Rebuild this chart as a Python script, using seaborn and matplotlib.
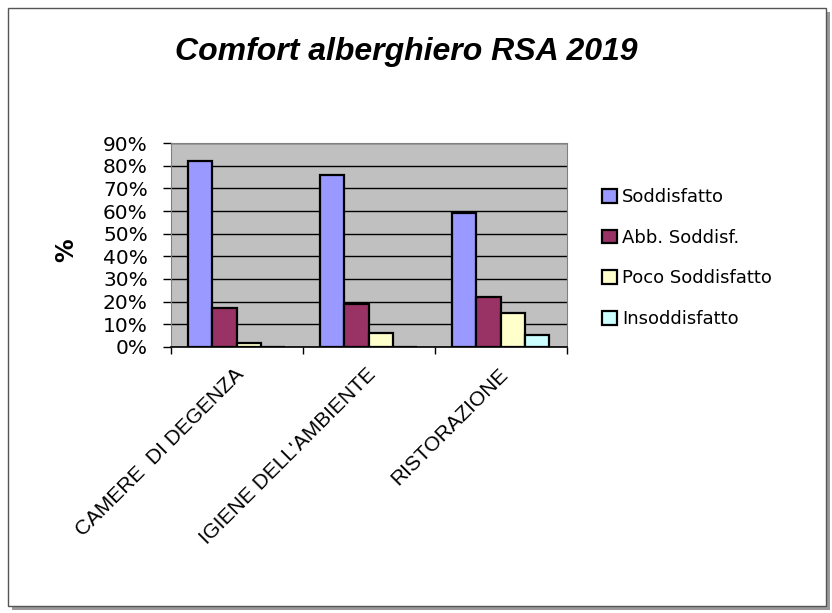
import matplotlib
matplotlib.use("Agg")
import matplotlib.pyplot as plt
import matplotlib.patches as mpatches
import seaborn as sns
import pandas as pd

# dati (percentuali)
categorie = ["CAMERE  DI DEGENZA", "IGIENE DELL'AMBIENTE", "RISTORAZIONE"]
giudizi = ["Soddisfatto", "Abb. Soddisf.", "Poco Soddisfatto", "Insoddisfatto"]
soddisfatto = [82, 76, 59]
abb_soddisf = [17, 19, 22]
poco_soddisfatto = [1.5, 6, 15]
insoddisfatto = [0, 0, 5]
colori = ["#9999FF", "#993366", "#FFFFCC", "#CCFFFF"]

serie = [soddisfatto, abb_soddisf, poco_soddisfatto, insoddisfatto]
righe = []
for g, vals in zip(giudizi, serie):
    for c, v in zip(categorie, vals):
        righe.append({"categoria": c, "giudizio": g, "valore": v})
df = pd.DataFrame(righe)

sns.set_style("white")
plt.rcParams["font.family"] = ["DejaVu Sans"]
plt.rcParams["text.color"] = "black"
plt.rcParams["axes.labelcolor"] = "black"
plt.rcParams["xtick.color"] = "black"
plt.rcParams["ytick.color"] = "black"

fig = plt.figure(figsize=(8.32, 6.13), dpi=100)

# cornice con ombra
fig.patches.append(mpatches.Rectangle((12 / 832, 1 - 610 / 613), 818 / 832, 598 / 613,
                                      transform=fig.transFigure, facecolor="#9a9a9a",
                                      edgecolor="none", zorder=0))
fig.patches.append(mpatches.Rectangle((8 / 832, 1 - 606 / 613), 818 / 832, 598 / 613,
                                      transform=fig.transFigure, facecolor="white",
                                      edgecolor="#555555", linewidth=1, zorder=1))

ax = fig.add_axes([170.7 / 832, 1 - 346.7 / 613, 396 / 832, 203.4 / 613])
ax.set_facecolor("#C0C0C0")
ax.set_zorder(2)

sns.barplot(data=df, x="categoria", y="valore", hue="giudizio", order=categorie,
            hue_order=giudizi, palette=colori, width=0.735, edgecolor="black",
            linewidth=1.6, saturation=1, ax=ax, zorder=3)

ax.set_ylim(0, 90)
ax.set_xlim(-0.5, 2.5)
ax.set_yticks(range(0, 91, 10))
ax.set_yticklabels([f"{v}%" for v in range(0, 91, 10)], fontsize=14.5)
ax.yaxis.grid(True, color="black", linewidth=1)
ax.set_axisbelow(True)
ax.tick_params(axis="y", left=True, length=5.5, width=1, color="black", pad=11)

ax.set_xticks([-0.5, 0.5, 1.5, 2.5], minor=False)
ax.set_xticklabels([])
ax.tick_params(axis="x", bottom=True, length=5, width=1, color="black")
for i, c in enumerate(categorie):
    ax.text(i - 0.02, -8, c, rotation=45, ha="right", va="top", rotation_mode="anchor",
            fontsize=15, family="Liberation Sans")

for s in ["top", "right", "left"]:
    ax.spines[s].set_color("#808080")
ax.spines["bottom"].set_color("black")
ax.spines["bottom"].set_linewidth(1.2)

ax.set_xlabel("")
ax.set_ylabel("%", fontsize=17, fontweight="bold")
ax.yaxis.set_label_coords(-0.234, 0.475)

handles = [mpatches.Patch(facecolor=col, edgecolor="black", linewidth=1.6) for col in colori]
ax.legend(handles, giudizi, loc="upper left", bbox_to_anchor=(586 / 832, 1 - 172 / 613),
          bbox_transform=fig.transFigure, frameon=False, fontsize=13,
          labelspacing=1.25, handlelength=0.8, handleheight=0.8, handletextpad=0.3)

fig.text(406 / 832, 1 - 52 / 613, "Comfort alberghiero RSA 2019", ha="center", va="center",
         fontsize=23, fontweight="bold", fontstyle="italic", family="Liberation Sans", zorder=3)

fig.savefig("out.png", dpi=100)
